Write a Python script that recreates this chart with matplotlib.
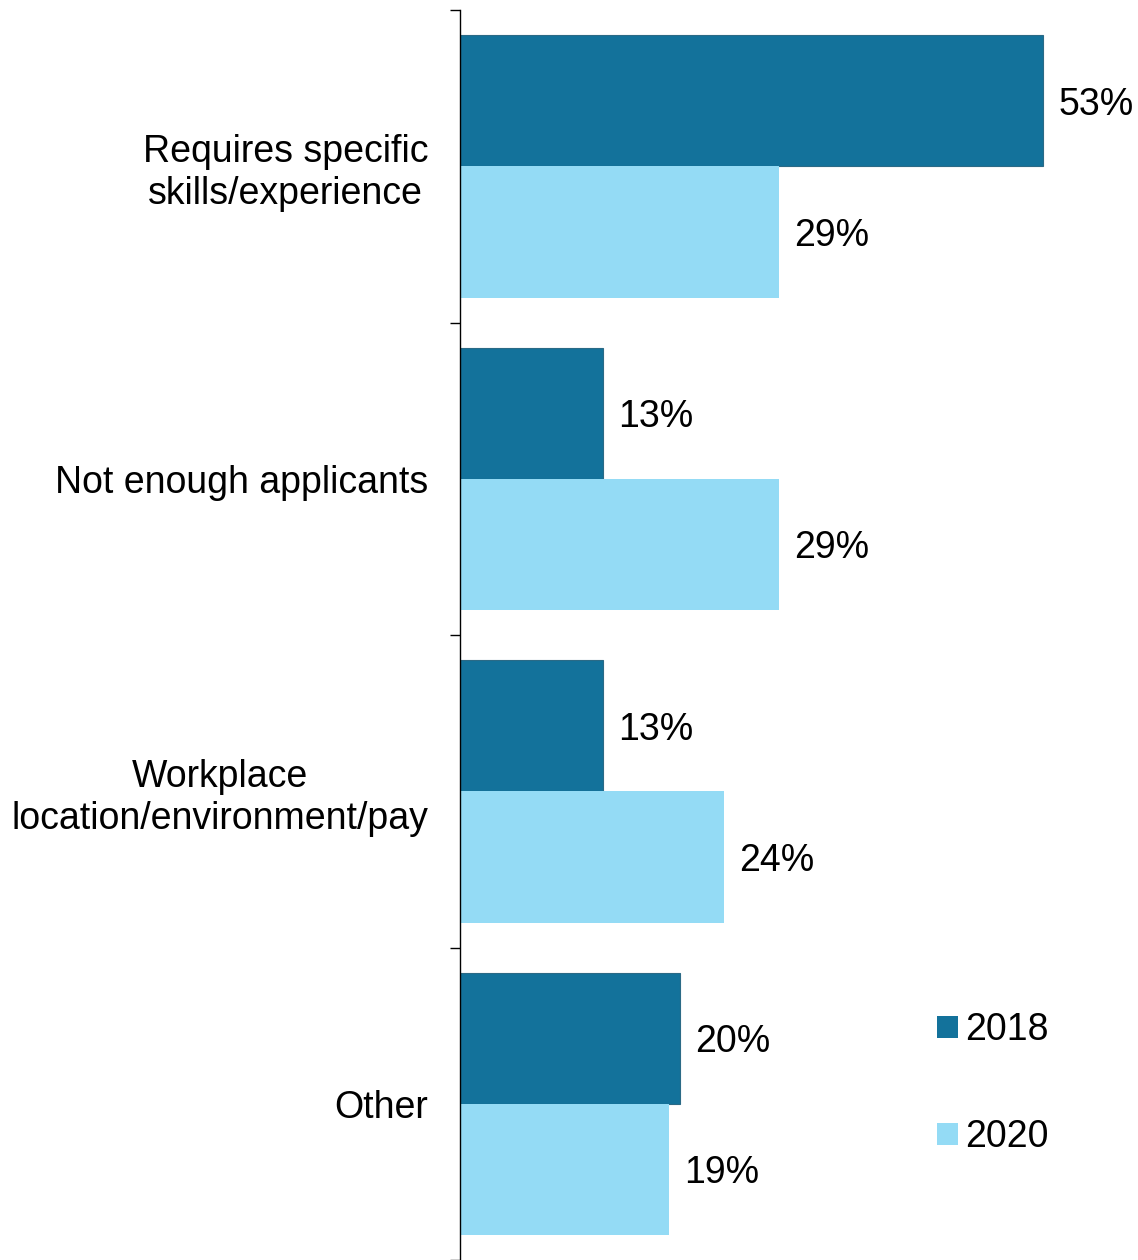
import matplotlib
matplotlib.use("Agg")
import matplotlib.pyplot as plt
import matplotlib.ticker as mticker
from matplotlib.patches import Patch
import numpy as np

# ---------------------------------------------------------------------------
# Data
# ---------------------------------------------------------------------------

categories = [
    "Requires specific\nskills/experience",
    "Not enough applicants",
    "Workplace\nlocation/environment/pay",
    "Other",
]
series_names = ["2018", "2020"]
values_2018 = [53, 13, 13, 20]
values_2020 = [29, 29, 24, 19]

# ---------------------------------------------------------------------------
# Style
# ---------------------------------------------------------------------------

_DARK = "#13729B"
_LIGHT = "#94DBF5"
_EDGE = "#2B6A86"
_TEXT = "#000000"
_FONT = 27

plt.rcParams["font.family"] = ["Liberation Sans", "DejaVu Sans"]

fig = plt.figure(figsize=(11.38, 12.6), dpi=100)
fig.patch.set_facecolor("white")
ax = fig.add_axes([460 / 1138, 0.0, 678 / 1138, 1250 / 1260])

y = np.arange(len(categories))
bar_h = 0.42

bars_2018 = ax.barh(y - bar_h / 2, values_2018, height=bar_h, color=_DARK,
                    edgecolor=_EDGE, linewidth=0.8, label=series_names[0], zorder=2)
bars_2020 = ax.barh(y + bar_h / 2, values_2020, height=bar_h, color=_LIGHT,
                    linewidth=0, label=series_names[1], zorder=2)

# value labels just past the bar ends
for bars, vals in ((bars_2018, values_2018), (bars_2020, values_2020)):
    for rect, v in zip(bars, vals):
        ax.annotate(f"{v}%", (rect.get_width(), rect.get_y() + rect.get_height() / 2),
                    xytext=(11, 0), textcoords="offset points",
                    ha="left", va="center_baseline", fontsize=_FONT, color=_TEXT)

ax.set_xlim(0, 61.6)
ax.set_ylim(len(categories) - 0.5, -0.5)

# category labels at band centres, tick marks at band boundaries
ax.set_yticks(y)
ax.set_yticklabels(categories, fontsize=_FONT, color=_TEXT, multialignment="center",
                   linespacing=1.2)
ax.tick_params(axis="y", which="major", length=0, pad=23)
ax.yaxis.set_minor_locator(mticker.FixedLocator(np.arange(len(categories) + 1) - 0.5))
ax.tick_params(axis="y", which="minor", length=7.5, width=1, color="#000000")
ax.set_xticks([])

for side in ("top", "right", "bottom"):
    ax.spines[side].set_visible(False)
ax.spines["left"].set_color("#000000")
ax.spines["left"].set_linewidth(1)

handles = [Patch(facecolor=_DARK, edgecolor="none"), Patch(facecolor=_LIGHT, edgecolor="none")]
ax.legend(handles, series_names, loc="center left", bbox_to_anchor=(0.682, 0.141),
          frameon=False, fontsize=_FONT, handlelength=0.54, handleheight=0.54,
          handletextpad=0.2, labelspacing=1.9, borderaxespad=0)

fig.savefig("out.png", dpi=100, facecolor="white")
